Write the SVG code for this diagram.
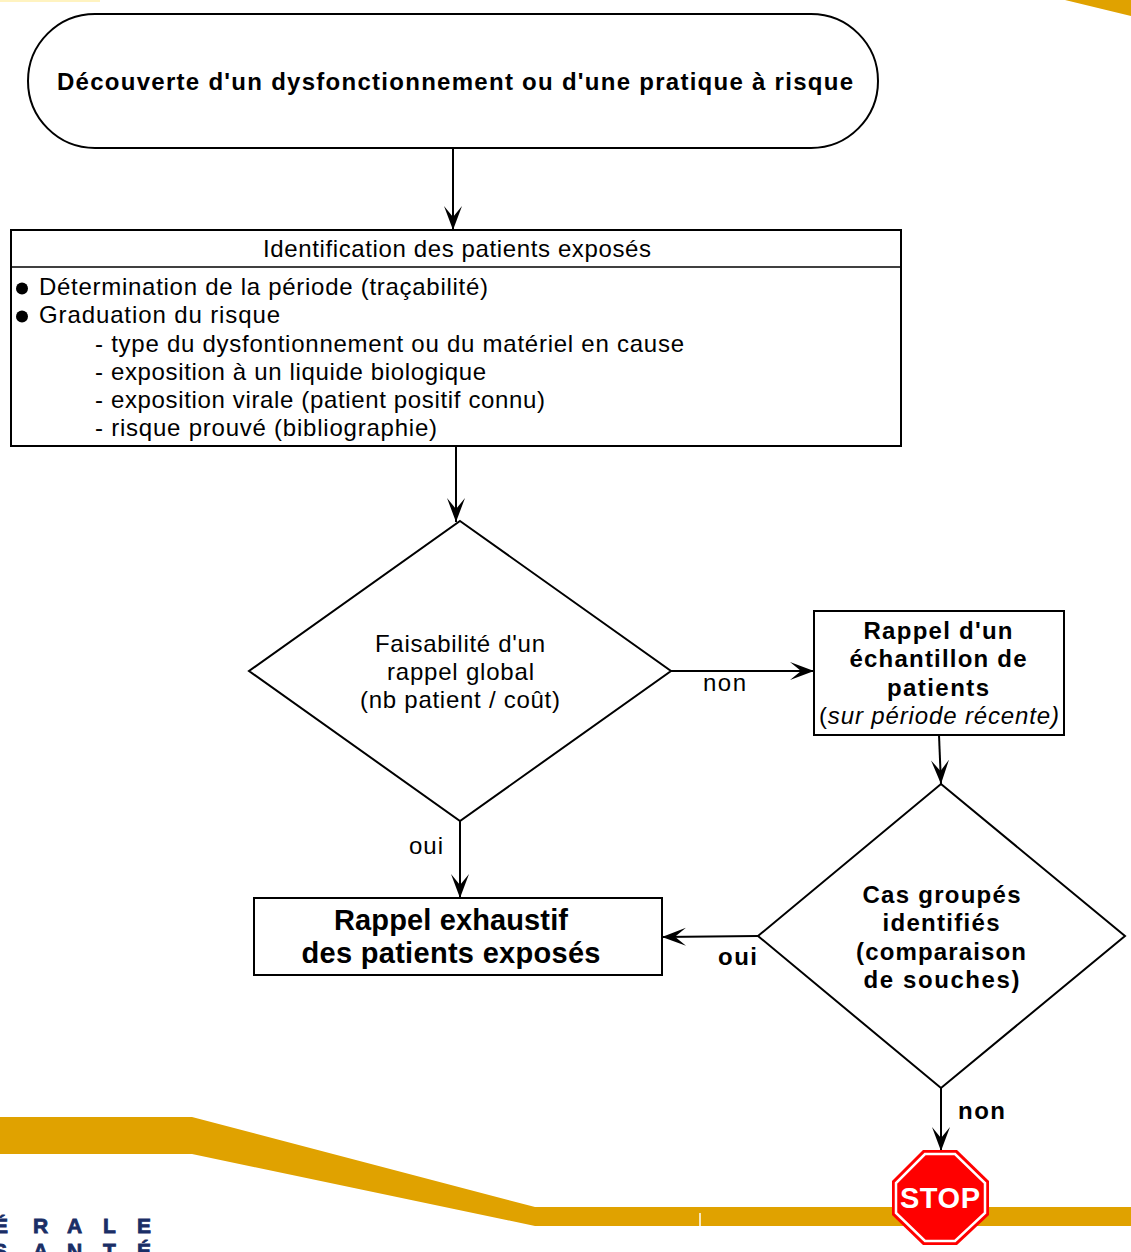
<svg xmlns="http://www.w3.org/2000/svg" width="1131" height="1252" viewBox="0 0 1131 1252">
<style>
text{font-family:"Liberation Sans",Arial,sans-serif;fill:#000;text-anchor:middle}
.s{font-size:24px}
.l{text-anchor:start}
.b{font-weight:bold}
.n{fill:#fff;stroke:#000;stroke-width:2}
.c{fill:none;stroke:#000;stroke-width:2;marker-end:url(#a)}
.g{fill:#e0a200}
.logo{font-size:21px;font-weight:bold;fill:#1a2e66;stroke:#1a2e66;stroke-width:.8;text-anchor:start}
</style>
<defs><marker id="a" markerUnits="userSpaceOnUse" markerWidth="26" markerHeight="20" refX="24" refY="9" orient="auto"><path d="M0 0L24 9L0 18L11 9Z" fill="#000"/></marker></defs>
<g id="background">
<path class="g" d="M0 1117H192L535 1207H1131V1226H535L192 1154H0Z"/>
<path class="g" d="M1065 0H1131V16Z"/>
<path d="M0 0H100V2H0Z" fill="#fff3c0"/>
<path d="M700 1213V1226" stroke="#fff" stroke-width="1.5"/>
<text class="logo" x="-6 33 67 103 137" y="1233">ÉRALE</text>
<text class="logo" x="-7 33 67 103 137" y="1258">SANTÉ</text>
</g>
<g id="connectors">
<path class="c" d="M453 148V230"/>
<path class="c" d="M456 446V522"/>
<path class="c" d="M671 671H814"/>
<path class="c" d="M460 821V898"/>
<path class="c" d="M939 735L941 784"/>
<path class="c" d="M758 936L662 937"/>
<path class="c" d="M941 1088V1151"/>
<text class="s" x="724.500" y="691" textLength="43">non</text>
<text class="s" x="426" y="854" textLength="34">oui</text>
<text class="s b" x="737.500" y="965" textLength="39">oui</text>
<text class="s b" x="981.500" y="1119" textLength="47">non</text>
</g>
<g id="start">
<rect class="n" x="28" y="14" width="850" height="134" rx="67" ry="67"/>
<text class="s b" x="455" y="90" textLength="796">Découverte d'un dysfonctionnement ou d'une pratique à risque</text>
</g>
<g id="identification">
<rect class="n" x="11" y="230" width="890" height="216"/>
<path d="M11 267H901" stroke="#000" stroke-width="1.5"/>
<text class="s" x="457" y="257" textLength="388">Identification des patients exposés</text>
<circle cx="22" cy="288.500" r="6"/>
<circle cx="22" cy="316.500" r="6"/>
<text class="s l" x="39" y="295" textLength="449">Détermination de la période (traçabilité)</text>
<text class="s l" x="39" y="323" textLength="241">Graduation du risque</text>
<text class="s l" x="95" y="352" textLength="589">- type du dysfontionnement ou du matériel en cause</text>
<text class="s l" x="95" y="380" textLength="391">- exposition à un liquide biologique</text>
<text class="s l" x="95" y="408" textLength="450">- exposition virale (patient positif connu)</text>
<text class="s l" x="95" y="436" textLength="342">- risque prouvé (bibliographie)</text>
</g>
<g id="faisabilite">
<path class="n" d="M460 521L671 671L460 821L249 671Z"/>
<text class="s" x="460" y="652" textLength="170">Faisabilité d'un</text>
<text class="s" x="460.500" y="680" textLength="147">rappel global</text>
<text class="s" x="460" y="708" textLength="200">(nb patient / coût)</text>
</g>
<g id="echantillon">
<rect class="n" x="814" y="611" width="250" height="124"/>
<text class="s b" x="938" y="639" textLength="149">Rappel d'un</text>
<text class="s b" x="938" y="667" textLength="177">échantillon de</text>
<text class="s b" x="938" y="696" textLength="102">patients</text>
<text class="s" x="939" y="724" textLength="240">(<tspan font-style="italic">sur période récente)</tspan></text>
</g>
<g id="exhaustif">
<rect class="n" x="254" y="898" width="408" height="77"/>
<text class="b" font-size="29" x="451" y="930" textLength="234">Rappel exhaustif</text>
<text class="b" font-size="29" x="451" y="963" textLength="299">des patients exposés</text>
</g>
<g id="cas">
<path class="n" d="M941 784L1125 936L941 1088L758 936Z"/>
<text class="s b" x="941.500" y="903" textLength="158">Cas groupés</text>
<text class="s b" x="941" y="931" textLength="117">identifiés</text>
<text class="s b" x="941" y="960" textLength="170">(comparaison</text>
<text class="s b" x="941.500" y="988" textLength="156">de souches)</text>
</g>
<g id="stop">
<path d="M923 1150H957L989 1181V1215L957 1245H923L892 1215V1181Z" fill="#f00"/>
<path d="M925 1154H955L985 1183V1213L955 1241H925L896 1213V1183Z" fill="none" stroke="#fff" stroke-width="2.500"/>
<text class="b" font-size="29" x="940" y="1208" textLength="80" style="fill:#fff">STOP</text>
</g>
</svg>
